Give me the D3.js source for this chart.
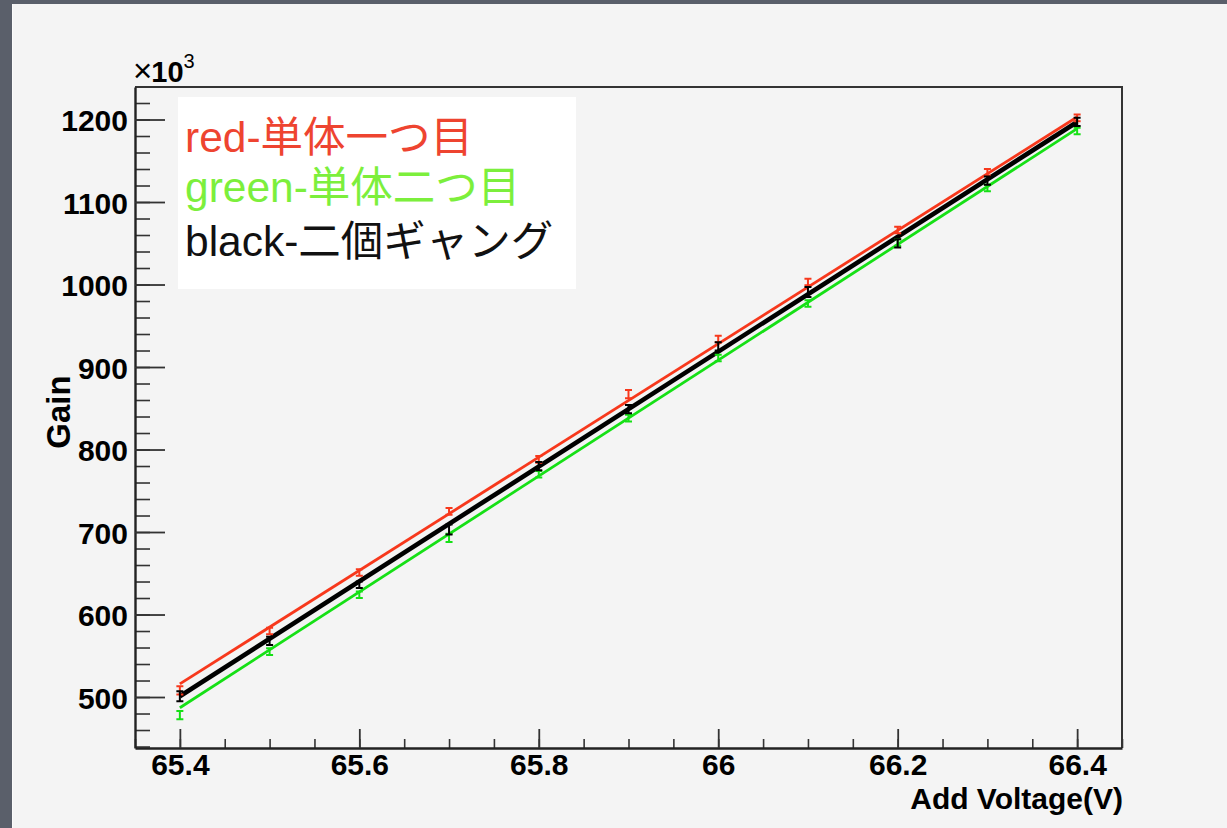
<!DOCTYPE html>
<html lang="ja">
<head>
  <meta charset="UTF-8" />
  <title>Gain vs Add Voltage</title>
  <script src="https://cdn.jsdelivr.net/npm/d3@7/dist/d3.min.js"></script>
  <style>
    html, body {
      margin: 0;
      padding: 0;
      background: #5a5f6a;
    }
    svg {
      display: block;
    }
    .tick text {
      font-family: "Liberation Sans", Arial, sans-serif;
      font-weight: bold;
      font-size: 30px;
      fill: #000;
    }
  </style>
</head>
<body>
  <svg id="chart" width="1227" height="828"></svg>

  <script>
    // voltages (V)
    const voltages = [65.4, 65.5, 65.6, 65.7, 65.8, 65.9, 66.0, 66.1, 66.2, 66.3, 66.4];

    // gain values, x10^3
    const gainRed   = [508, 580, 651, 725, 788, 867, 934, 1003, 1066, 1136, 1202];
    const gainGreen = [478, 555, 624, 693, 770, 838, 911, 977, 1051, 1117, 1186];
    const gainBlack = [501, 568, 636, 703, 780, 849, 925, 991, 1050, 1126, 1197];

    const errRed   = [5, 4, 4, 4, 4, 5, 4, 4, 4, 4, 4];
    const errGreen = [5, 4, 4, 5, 4, 4, 4, 4, 4, 4, 4];
    const errBlack = [6, 5, 4, 6, 5, 5, 5, 6, 5, 5, 5];

    // fitted straight lines: gain at 65.4 V and at 66.4 V
    const fitX     = [65.4, 66.4];
    const fitRed   = [516, 1203];
    const fitGreen = [487, 1189];
    const fitBlack = [501, 1197];

    const xMajorTicks = [65.4, 65.6, 65.8, 66.0, 66.2, 66.4];
    const xTickLabels = ["65.4", "65.6", "65.8", "66", "66.2", "66.4"];
    const yMajorTicks = [500, 600, 700, 800, 900, 1000, 1100, 1200];

    const legendLabels = ["red-単体一つ目", "green-単体二つ目", "black-二個ギャング"];
    const legendColors = ["#ee4430", "#7cef3c", "#111111"];

    const series = [
      { vals: gainRed,   errs: errRed,   fit: fitRed,   color: "#f7381c", width: 2.8 },
      { vals: gainGreen, errs: errGreen, fit: fitGreen, color: "#16e016", width: 2.8 },
      { vals: gainBlack, errs: errBlack, fit: fitBlack, color: "#000000", width: 4.6 }
    ];

    const frame = { left: 135, right: 1122, top: 87, bottom: 748 };

    const svg = d3.select("#chart");

    // pad / canvas
    svg.append("rect")
      .attr("x", 12).attr("y", 4)
      .attr("width", 1227 - 12).attr("height", 828 - 4)
      .attr("fill", "#f4f4f4");
    svg.append("line")
      .attr("x1", 12.5).attr("x2", 12.5).attr("y1", 4).attr("y2", 828)
      .attr("stroke", "#fbfbfb").attr("stroke-width", 1);

    const x = d3.scaleLinear()
      .domain([65.35, 66.45])
      .range([frame.left, frame.right]);

    const y = d3.scaleLinear()
      .domain([438.2, 1239.4])
      .range([frame.bottom, frame.top]);

    // frame (top + right)
    svg.append("path")
      .attr("d", `M${frame.left},${frame.top}H${frame.right}V${frame.bottom}`)
      .attr("fill", "none")
      .attr("stroke", "#333")
      .attr("stroke-width", 2);

    // minor ticks
    const xMinor = d3.range(65.35, 66.4501, 0.05).map(v => +v.toFixed(2));
    const yMinor = d3.range(440, 1240, 20);

    svg.append("g")
      .attr("transform", `translate(0,${frame.bottom})`)
      .call(d3.axisBottom(x).tickValues(xMinor).tickSize(-9).tickFormat(""))
      .call(g => g.select(".domain").remove())
      .call(g => g.selectAll("line").attr("stroke", "#333").attr("stroke-width", 1.6));

    svg.append("g")
      .attr("transform", `translate(${frame.left},0)`)
      .call(d3.axisLeft(y).tickValues(yMinor).tickSize(-15).tickFormat(""))
      .call(g => g.select(".domain").remove())
      .call(g => g.selectAll("line").attr("stroke", "#333").attr("stroke-width", 1.6));

    // major ticks + labels
    svg.append("g")
      .attr("transform", `translate(0,${frame.bottom})`)
      .call(d3.axisBottom(x)
        .tickValues(xMajorTicks)
        .tickSizeInner(-19).tickSizeOuter(0)
        .tickPadding(6)
        .tickFormat((d, i) => xTickLabels[i]))
      .call(g => g.select(".domain").attr("stroke", "#222").attr("stroke-width", 2.4))
      .call(g => g.selectAll("line").attr("stroke", "#333").attr("stroke-width", 1.8));

    svg.append("g")
      .attr("transform", `translate(${frame.left},0)`)
      .call(d3.axisLeft(y)
        .tickValues(yMajorTicks)
        .tickSizeInner(-30).tickSizeOuter(0)
        .tickPadding(7)
        .tickFormat(d3.format("d")))
      .call(g => g.select(".domain").attr("stroke", "#222").attr("stroke-width", 2.4))
      .call(g => g.selectAll("line").attr("stroke", "#333").attr("stroke-width", 1.8))
      .call(g => g.selectAll("text").attr("dy", "0.38em"));

    // x10^3 multiplier
    const mult = svg.append("text")
      .attr("x", 133).attr("y", 82)
      .attr("font-family", "Liberation Sans, Arial, sans-serif")
      .attr("font-size", 29)
      .attr("fill", "#000");
    mult.append("tspan").attr("font-size", 33).text("×");
    mult.append("tspan").attr("font-weight", "bold").attr("dx", -1).text("10");
    mult.append("tspan").attr("font-size", 20).attr("dy", -14).text("3");

    // axis titles
    svg.append("text")
      .attr("x", frame.right + 1).attr("y", 809)
      .attr("text-anchor", "end")
      .attr("font-family", "Liberation Sans, Arial, sans-serif")
      .attr("font-weight", "bold")
      .attr("font-size", 30)
      .text("Add Voltage(V)");

    svg.append("text")
      .attr("transform", "translate(70,412) rotate(-90)")
      .attr("text-anchor", "middle")
      .attr("font-family", "Liberation Sans, Arial, sans-serif")
      .attr("font-weight", "bold")
      .attr("font-size", 33)
      .text("Gain");

    // fit lines
    const line = d3.line().x(d => x(d[0])).y(d => y(d[1]));
    series.forEach(s => {
      svg.append("path")
        .datum(fitX.map((v, i) => [v, s.fit[i]]))
        .attr("d", line)
        .attr("fill", "none")
        .attr("stroke", s.color)
        .attr("stroke-width", s.width);
    });

    // error bars
    series.forEach(s => {
      const pts = voltages.map((v, i) => ({ v, g: s.vals[i], e: s.errs[i] }));
      const g = svg.append("g")
        .attr("stroke", s.color)
        .attr("stroke-width", 2)
        .attr("fill", "none");
      g.selectAll("path.err")
        .data(pts)
        .join("path")
        .attr("class", "err")
        .attr("d", d => {
          const cx = x(d.v), y0 = y(d.g - d.e), y1 = y(d.g + d.e);
          return `M${cx},${y0}V${y1}M${cx - 3.5},${y0}H${cx + 3.5}M${cx - 3.5},${y1}H${cx + 3.5}`;
        });
    });

    // legend
    svg.append("rect")
      .attr("x", 178).attr("y", 97)
      .attr("width", 398).attr("height", 192)
      .attr("fill", "#ffffff");

    svg.append("g")
      .selectAll("text")
      .data(legendLabels)
      .join("text")
      .attr("x", 185)
      .attr("y", (d, i) => [152, 202, 256][i])
      .attr("font-family", "Liberation Sans, 'Noto Sans CJK JP', sans-serif")
      .attr("font-size", 42.5)
      .attr("fill", (d, i) => legendColors[i])
      .text(d => d);
  </script>
</body>
</html>
